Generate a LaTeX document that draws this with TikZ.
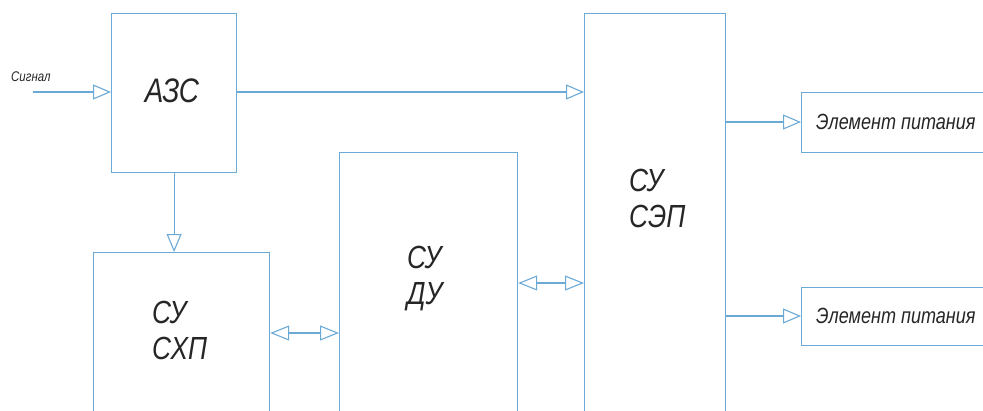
\documentclass[tikz,border=0pt]{standalone}
\usepackage{fontspec}
\newfontfamily\gost{Liberation Sans}[FakeStretch=0.82]
\usetikzlibrary{arrows.meta}
\definecolor{ln}{RGB}{108,170,214}
\tikzset{
  x=1pt, y=-1pt,
  box/.style={draw=ln, line width=1.2pt, fill=white, inner sep=0pt, anchor=north west},
  lbl/.style={font=\gost\itshape, text=black!85, inner sep=0pt, align=left},
  arr/.style={draw=ln, line width=1.1pt, -{Triangle[open, length=18pt, width=15pt, fill=white]}},
  darr/.style={draw=ln, line width=1.1pt, {Triangle[open, length=19pt, width=15pt, fill=white]}-{Triangle[open, length=19pt, width=15pt, fill=white]}},
}
\begin{document}
\begin{tikzpicture}
\useasboundingbox (0,0) rectangle (983,410);
\clip (0,0) rectangle (983,410);
% boxes
\node[box, minimum width=125pt, minimum height=159pt] (azs) at (111,13) {};
\node[box, minimum width=176pt, minimum height=170pt] (shp) at (93,252) {};
\node[box, minimum width=178pt, minimum height=270pt] (du) at (339,152) {};
\node[box, minimum width=141pt, minimum height=410pt] (sep) at (584,13) {};
\node[box, minimum width=190pt, minimum height=60pt] (el1) at (801,92) {};
\node[box, minimum width=190pt, minimum height=58pt] (el2) at (801,287) {};
% texts
\node[lbl, font=\gost\itshape\fontsize{34}{36}\selectfont] (azs-t) at (172,91) {АЗС};
\node[lbl, font=\gost\itshape\fontsize{32}{36}\selectfont, anchor=north west] (shp-t) at (152,301) {СУ\\СХП};
\node[lbl, font=\gost\itshape\fontsize{32}{36}\selectfont, anchor=north west] (du-t) at (407,246) {СУ\\ДУ};
\node[lbl, font=\gost\itshape\fontsize{32}{36}\selectfont, anchor=north west] (sep-t) at (629,169) {СУ\\СЭП};
\node[lbl, font=\gost\itshape\fontsize{22}{24}\selectfont, anchor=west] (el1-t) at (816,122) {Элемент питания};
\node[lbl, font=\gost\itshape\fontsize{22}{24}\selectfont, anchor=west] (el2-t) at (816,316) {Элемент питания};
\node[lbl, font=\gost\itshape\fontsize{14}{16}\selectfont, anchor=base west] (sig-t) at (11,81) {Сигнал};
% connector coordinates
\coordinate (sig) at (33,92);
\coordinate (d1) at (0,333);
\coordinate (d2) at (0,283);
\coordinate (o1) at (0,122);
\coordinate (o2) at (0,316);
% connectors
\draw[arr] (sig) -- (sig -| azs.west);
\draw[arr] (azs.east |- sig) -- (sig -| sep.west);
\draw[arr] (azs.south) -- (azs.south |- shp.north);
\draw[darr] (shp.east |- d1) -- (du.west |- d1);
\draw[darr] (du.east |- d2) -- (sep.west |- d2);
\draw[arr] (sep.east |- o1) -- (el1.west |- o1);
\draw[arr] (sep.east |- o2) -- (el2.west |- o2);
\end{tikzpicture}
\end{document}
